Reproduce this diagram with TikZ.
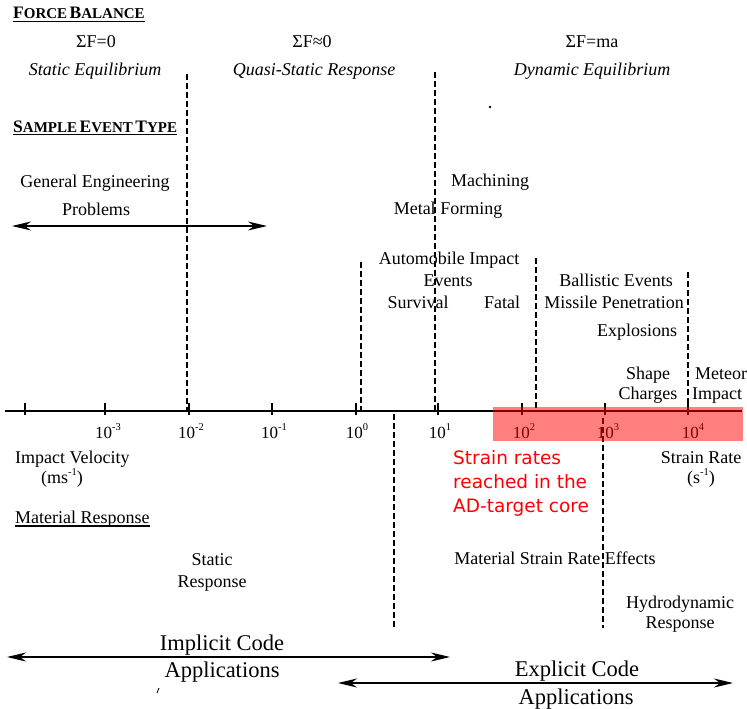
\documentclass[tikz,border=0pt]{standalone}
\usepackage{fontspec}
\setmainfont{Liberation Serif}
\newfontfamily\redfont{DejaVu Sans}
\usetikzlibrary{arrows.meta}
\newcommand{\sups}[1]{\raisebox{0.42em}{\fontsize{10.5}{11}\selectfont #1}}
\newcommand{\fsc}[2]{{\fontsize{17.5}{20}\selectfont #1}{\fontsize{15}{17}\selectfont #2}}
\begin{document}
\begin{tikzpicture}[x=1pt,y=-1pt,
  txt/.style={inner sep=0pt, anchor=base, font=\fontsize{18}{20}\selectfont},
  itx/.style={inner sep=0pt, anchor=base, font=\fontsize{18}{20}\selectfont\itshape},
  hdr/.style={inner sep=0pt, anchor=base west, font=\bfseries},
  big/.style={inner sep=0pt, anchor=base, font=\fontsize{22.5}{24}\selectfont},
  axl/.style={inner sep=0pt, anchor=base, font=\fontsize{17}{18}\selectfont},
  redt/.style={inner sep=0pt, anchor=base west, text=red, font=\redfont\fontsize{18.5}{22}\selectfont},
  dline/.style={line width=1.7pt, dash pattern=on 6pt off 3pt},
  axisln/.style={line width=1.4pt},
  tickln/.style={line width=1.2pt},
  uline/.style={line width=1.2pt},
  arr/.style={line width=1.1pt, {Stealth[length=19pt,width=9pt,inset=6pt]}-{Stealth[length=19pt,width=9pt,inset=6pt]}}
]
\useasboundingbox (0,0) rectangle (747,709);

% headings
\node[hdr] (fb) at (13,19) {\fsc{F}{ORCE} \fsc{B}{ALANCE}};
\draw[uline] ([yshift=-2.5pt]fb.base west) -- ([yshift=-2.5pt]fb.base east);
\node[hdr] (set) at (13,132) {\fsc{S}{AMPLE} \fsc{E}{VENT} \fsc{T}{YPE}};
\draw[uline] ([yshift=-2.5pt]set.base west) -- ([yshift=-2.5pt]set.base east);
\node[txt, anchor=base west] (mr) at (15,523) {Material Response};
\draw[uline] ([yshift=-3pt]mr.base west) -- ([yshift=-3pt]mr.base east);

% force balance
\node[txt] (sf0) at (96,48) {ΣF=0};
\node[itx] (se) at (95,75) {Static Equilibrium};
\node[txt] (sfq) at (312,48) {ΣF≈0};
\node[itx] (qsr) at (314,75) {Quasi-Static Response};
\node[txt] (sfma) at (592,48) {ΣF=ma};
\node[itx] (de) at (592,75) {Dynamic Equilibrium};

% vertical dashed lines
\draw[dline] (187,74) -- (187,411);
\draw[dline] (435,72) -- (435,411);
\draw[dline] (361,262) -- (361,411);
\draw[dline] (536,258) -- (536,411);
\draw[dline] (688,272) -- (688,411);
\draw[dline] (394,414) -- (394,629);
\draw[dline] (603,418) -- (603,628);

% sample events
\node[txt] (ge1) at (95,187) {General Engineering};
\node[txt] (ge2) at (96,215) {Problems};
\coordinate (gea0) at (12,226);
\coordinate (gea1) at (267,226);
\draw[arr] (gea0) -- (gea1);
\node[txt] (mach) at (490,186) {Machining};
\node[txt] (mf) at (448,214) {Metal Forming};
\node[txt] (aut1) at (449,264) {Automobile Impact};
\node[txt] (aut2) at (448,286) {Events};
\node[txt] (surv) at (418,308) {Survival};
\node[txt] (fat) at (502,308) {Fatal};
\node[txt] (bal) at (616,286) {Ballistic Events};
\node[txt] (mis) at (614,308) {Missile Penetration};
\node[txt] (exp) at (637,336) {Explosions};
\node[txt] (sh1) at (648,379) {Shape};
\node[txt] (sh2) at (648,399) {Charges};
\node[txt, anchor=base west] (met1) at (695,379) {Meteor};
\node[txt, anchor=base west] (met2) at (692,399) {Impact};

% axis
\coordinate (ax0) at (5,411);
\coordinate (ax1) at (742,411);
\draw[axisln] (ax0) -- (ax1);
\foreach \t in {25,105,189,272,356,438,522,605,688}
  \draw[tickln] (\t,403) -- (\t,415);
\node[axl] (l1) at (108,438) {10\sups{-3}};
\node[axl] (l2) at (191,438) {10\sups{-2}};
\node[axl] (l3) at (274,438) {10\sups{-1}};
\node[axl] (l4) at (357,438) {10\sups{0}};
\node[axl] (l5) at (440,438) {10\sups{1}};
\node[axl] (l6) at (524,438) {10\sups{2}};
\node[axl] (l7) at (608,438) {10\sups{3}};
\node[axl] (l8) at (693,438) {10\sups{4}};

% highlight
\fill[red, opacity=0.5] (493,407) rectangle (743,441);

% axis titles
\node[txt, anchor=base west] (iv1) at (15,463) {Impact Velocity};
\node[txt] (iv2) at (62,483) {(ms\sups{-1})};
\node[txt] (sr1) at (701,463) {Strain Rate};
\node[txt] (sr2) at (701,483) {(s\sups{-1})};
\node[redt] (r1) at (453,464) {Strain rates};
\node[redt] (r2) at (453,488) {reached in the};
\node[redt] (r3) at (453,512) {AD-target core};

% material response
\node[txt] (st1) at (212,565) {Static};
\node[txt] (st2) at (212,587) {Response};
\node[txt] (msr) at (555,564) {Material Strain Rate Effects};
\node[txt] (hy1) at (680,608) {Hydrodynamic};
\node[txt] (hy2) at (680,628) {Response};

% code applications
\node[big] (ic1) at (222,650) {Implicit Code};
\node[big] (ic2) at (222,677) {Applications};
\coordinate (ica0) at (7,657);
\coordinate (ica1) at (450,657);
\draw[arr] (ica0) -- (ica1);
\node[big] (ec1) at (577,676) {Explicit Code};
\node[big] (ec2) at (576,704) {Applications};
\coordinate (eca0) at (338,683);
\coordinate (eca1) at (733,683);
\draw[arr] (eca0) -- (eca1);

% stray marks
\fill (490,107) circle (1.3pt);
\draw[line width=0.9pt] (157,693) -- (159,688);
\end{tikzpicture}
\end{document}
